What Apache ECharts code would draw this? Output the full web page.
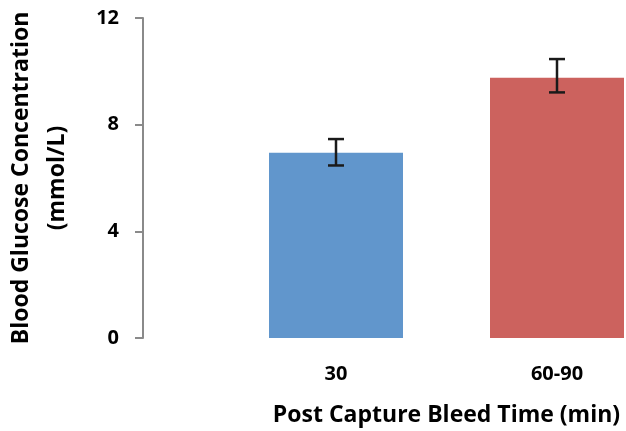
<!DOCTYPE html>
<html lang="en">
  <head>
    <meta charset="UTF-8" />
    <title>Blood Glucose</title>
    <script src="https://cdn.jsdelivr.net/npm/echarts@6.0.0/dist/echarts.min.js"></script>
  </head>
  <body style="margin: 0">
    <div id="main" style="width: 626px; height: 431px"></div>
    <script type="text/javascript">
      const categories = ["30", "60-90"];
      const glucose = [6.95, 9.76];
      const errLow = [6.47, 9.21];
      const errHigh = [7.46, 10.46];
      const barColors = ["#6196CC", "#CC625E"];
      const yTicks = [0, 4, 8, 12];

      const font = "'Open Sans', sans-serif";

      let myChart = echarts.init(document.getElementById("main"));

      let options = {
        animation: false,
        textStyle: { fontFamily: font },
        grid: {
          left: 225.5,
          right: -41.5,
          top: 18,
          bottom: 93,
          outerBoundsMode: "none",
        },
        xAxis: {
          type: "category",
          data: categories,
          axisLine: { show: false },
          axisTick: { show: false },
          axisLabel: {
            margin: 26,
            fontSize: 20,
            fontWeight: "bold",
            color: "#000",
            fontFamily: font,
          },
          name: "Post Capture Bleed Time (min)",
          nameLocation: "middle",
          nameGap: 66,
          nameTextStyle: {
            fontSize: 23,
            fontWeight: "bold",
            color: "#000",
            fontFamily: font,
          },
        },
        yAxis: {
          type: "value",
          min: yTicks[0],
          max: yTicks[yTicks.length - 1],
          interval: 4,
          offset: 82.5,
          splitLine: { show: false },
          axisLine: { show: true, lineStyle: { color: "#8a8a8a", width: 2 } },
          axisTick: {
            show: true,
            length: 8,
            lineStyle: { color: "#8a8a8a", width: 2 },
          },
          axisLabel: {
            margin: 24,
            fontSize: 20,
            fontWeight: "bold",
            color: "#000",
            fontFamily: font,
          },
          name: "Blood Glucose Concentration\n(mmol/L)",
          nameLocation: "middle",
          nameGap: 68,
          nameTextStyle: {
            fontSize: 23,
            fontWeight: "bold",
            color: "#000",
            lineHeight: 36,
            fontFamily: font,
          },
        },
        series: [
          {
            type: "bar",
            barWidth: 134,
            data: glucose.map((v, i) => ({
              value: v,
              itemStyle: { color: barColors[i] },
            })),
          },
          {
            type: "custom",
            data: categories.map((c, i) => [i, errLow[i], errHigh[i]]),
            renderItem: function (params, api) {
              const x = api.coord([api.value(0), api.value(1)])[0];
              const yLow = api.coord([api.value(0), api.value(1)])[1];
              const yHigh = api.coord([api.value(0), api.value(2)])[1];
              const half = 8;
              const style = { stroke: "#1a1a1a", lineWidth: 2.5 };
              return {
                type: "group",
                children: [
                  { type: "line", shape: { x1: x, y1: yLow, x2: x, y2: yHigh }, style },
                  { type: "line", shape: { x1: x - half, y1: yLow, x2: x + half, y2: yLow }, style },
                  { type: "line", shape: { x1: x - half, y1: yHigh, x2: x + half, y2: yHigh }, style },
                ],
              };
            },
            z: 10,
          },
        ],
      };

      myChart.setOption(options);
    </script>
  </body>
</html>
